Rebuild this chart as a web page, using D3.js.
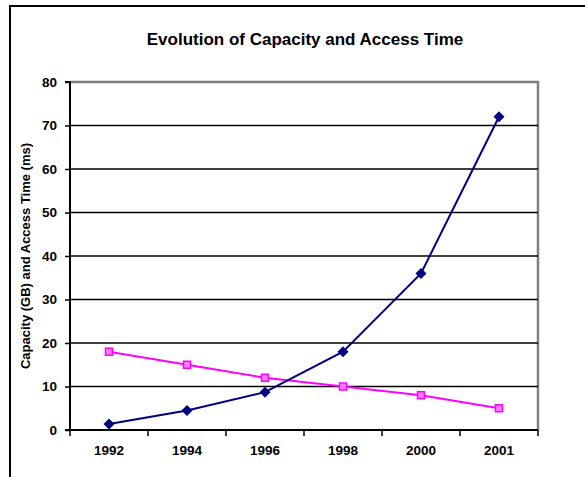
<!DOCTYPE html>
<html>
<head>
<meta charset="utf-8">
<script src="https://cdn.jsdelivr.net/npm/d3@7/dist/d3.min.js"></script>
<style>
  html, body { margin: 0; padding: 0; background: #fff; }
  svg { display: block; font-family: "Liberation Sans", Arial, sans-serif; }
</style>
</head>
<body>
<svg id="chart" width="585" height="477"></svg>
<script>
// Chart data
const years = ["1992", "1994", "1996", "1998", "2000", "2001"];
const capacityGB = [1.4, 4.5, 8.7, 18, 36, 72];
const accessTimeMs = [18, 15, 12, 10, 8, 5];
const yTicks = [0, 10, 20, 30, 40, 50, 60, 70, 80];

const svg = d3.select("#chart");
const W = 585, H = 477;
const plot = { left: 70, right: 538, top: 82, bottom: 430 };
const FONT = "Liberation Sans, Arial, sans-serif";

// Outer frame (runs off the right and bottom edges)
svg.append("path")
  .attr("d", `M10,${H + 5} L10,6 L${W + 5},6`)
  .attr("fill", "none")
  .attr("stroke", "#000")
  .attr("stroke-width", 2);

// Title
svg.append("text")
  .attr("x", 305).attr("y", 45)
  .attr("text-anchor", "middle")
  .attr("font-size", 17).attr("font-weight", "bold")
  .text("Evolution of Capacity and Access Time");

const x = d3.scaleBand().domain(years).range([plot.left, plot.right]);
const y = d3.scaleLinear().domain([0, 80]).range([plot.bottom, plot.top]);

// Plot area border (top and right in grey)
svg.append("path")
  .attr("d", `M${plot.left},${plot.top} L${plot.right},${plot.top} L${plot.right},${plot.bottom}`)
  .attr("fill", "none").attr("stroke", "#808080").attr("stroke-width", 2.5);

// Horizontal gridlines
svg.append("g").selectAll("line")
  .data(yTicks.filter(v => v > 0 && v < 80))
  .join("line")
  .attr("x1", plot.left).attr("x2", plot.right)
  .attr("y1", d => y(d)).attr("y2", d => y(d))
  .attr("stroke", "#000").attr("stroke-width", 1.5);

// Y axis
const yAxis = svg.append("g")
  .attr("transform", `translate(${plot.left},0)`)
  .call(d3.axisLeft(y).tickValues(yTicks).tickSize(5).tickPadding(8));
yAxis.select(".domain").attr("stroke", "#000").attr("stroke-width", 2)
  .attr("d", `M-5,${plot.top}H0V${plot.bottom}H-5`);
yAxis.selectAll(".tick line").attr("stroke", "#000").attr("stroke-width", 1.5);
yAxis.selectAll("text").attr("font-size", 13.5).attr("font-weight", "bold")
  .attr("font-family", FONT).attr("fill", "#000");

// X axis: ticks sit on the category boundaries
const xAxis = svg.append("g")
  .attr("transform", `translate(0,${plot.bottom})`)
  .call(d3.axisBottom(x).tickSize(0).tickPadding(15));
xAxis.select(".domain").attr("stroke", "#000").attr("stroke-width", 2)
  .attr("d", `M${plot.left},0H${plot.right}`);
xAxis.selectAll("text").attr("font-size", 13.5).attr("font-weight", "bold")
  .attr("font-family", FONT).attr("fill", "#000");
const boundaries = years.map(d => x(d)).concat([x(years[years.length - 1]) + x.bandwidth()]);
xAxis.append("g").selectAll("line")
  .data(boundaries)
  .join("line")
  .attr("x1", d => d).attr("x2", d => d)
  .attr("y1", 0).attr("y2", 6)
  .attr("stroke", "#000").attr("stroke-width", 1.5);

// Y axis title
svg.append("text")
  .attr("transform", `translate(30,${(plot.top + plot.bottom) / 2}) rotate(-90)`)
  .attr("text-anchor", "middle")
  .attr("font-size", 13).attr("font-weight", "bold")
  .text("Capacity (GB) and Access Time (ms)");

const cx = d => x(d) + x.bandwidth() / 2;

// Access time series (magenta, square markers)
const accessPts = years.map((d, i) => [cx(d), y(accessTimeMs[i])]);
svg.append("path")
  .attr("d", d3.line()(accessPts))
  .attr("fill", "none").attr("stroke", "#ff00ff").attr("stroke-width", 2);
svg.append("g").selectAll("rect")
  .data(accessPts)
  .join("rect")
  .attr("x", d => d[0] - 3.5).attr("y", d => d[1] - 3.5)
  .attr("width", 7).attr("height", 7)
  .attr("fill", "#ff80ff").attr("stroke", "#ff00ff").attr("stroke-width", 1.5);

// Capacity series (navy, diamond markers)
const capPts = years.map((d, i) => [cx(d), y(capacityGB[i])]);
svg.append("path")
  .attr("d", d3.line()(capPts))
  .attr("fill", "none").attr("stroke", "#000080").attr("stroke-width", 2);
svg.append("g").selectAll("path")
  .data(capPts)
  .join("path")
  .attr("d", d => `M${d[0]},${d[1] - 5.5} L${d[0] + 5.5},${d[1]} L${d[0]},${d[1] + 5.5} L${d[0] - 5.5},${d[1]} Z`)
  .attr("fill", "#000080");
</script>
</body>
</html>
